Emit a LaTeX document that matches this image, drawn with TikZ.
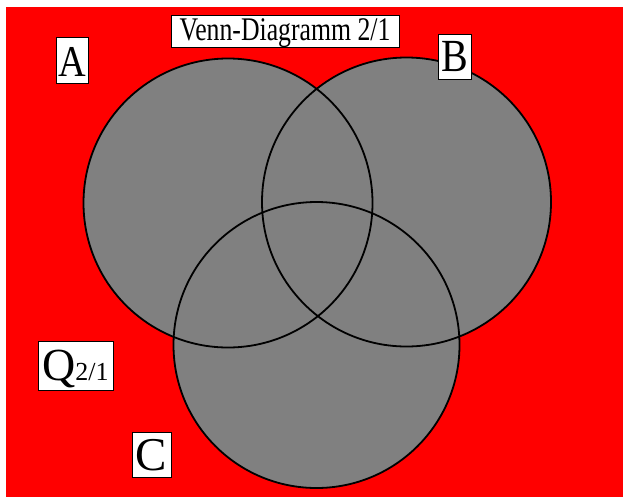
\documentclass[tikz,border=0pt]{standalone}
\usepackage{graphicx}
\usepackage{fontspec}
\setmainfont{Liberation Serif}
\definecolor{bg}{RGB}{255,0,0}
\definecolor{setgray}{RGB}{128,128,128}
\begin{document}
\begin{tikzpicture}[x=1pt,y=-1pt,
  setfill/.style={fill=setgray},
  setline/.style={draw=black,line width=1.8pt},
  lab/.style={draw=black,fill=white,line width=0.8pt,inner sep=0pt,anchor=center}]
\useasboundingbox (0,0) rectangle (623,498);
\fill[bg] (6,7) rectangle (623,497);
\coordinate (ca) at (228,203);
\coordinate (cb) at (406.5,202);
\coordinate (cc) at (316.5,345);
\fill[setfill] (ca) circle[radius=144.5];
\fill[setfill] (cb) circle[radius=144.5];
\fill[setfill] (cc) circle[radius=143];
\draw[setline] (ca) circle[radius=144.5];
\draw[setline] (cb) circle[radius=144.5];
\draw[setline] (cc) circle[radius=143];
\node[lab,minimum width=228pt,minimum height=32pt,text height=22pt,text depth=4pt,font=\fontsize{33}{36}\selectfont] (title) at (285,31) {\scalebox{0.78}[1]{Venn-Diagramm 2/1}};
\node[lab,minimum width=32pt,minimum height=46pt,text height=34pt,text depth=2pt,font=\fontsize{44}{48}\selectfont] (la) at (72,60) {\scalebox{0.87}[1]{A}};
\node[lab,minimum width=33pt,minimum height=45pt,text height=31pt,text depth=2pt,font=\fontsize{46}{50}\selectfont] (lb) at (454.5,56.5) {\scalebox{0.87}[1]{B}};
\node[lab,minimum width=75pt,minimum height=49pt,text height=31pt,text depth=2pt,font=\fontsize{46}{50}\selectfont] (lq) at (75.5,365.5) {Q{\fontsize{26}{28}\selectfont 2/1}};
\node[lab,minimum width=39pt,minimum height=45pt,text height=33pt,text depth=2pt,font=\fontsize{47}{50}\selectfont] (lc) at (151.5,454.5) {C};
\end{tikzpicture}
\end{document}
